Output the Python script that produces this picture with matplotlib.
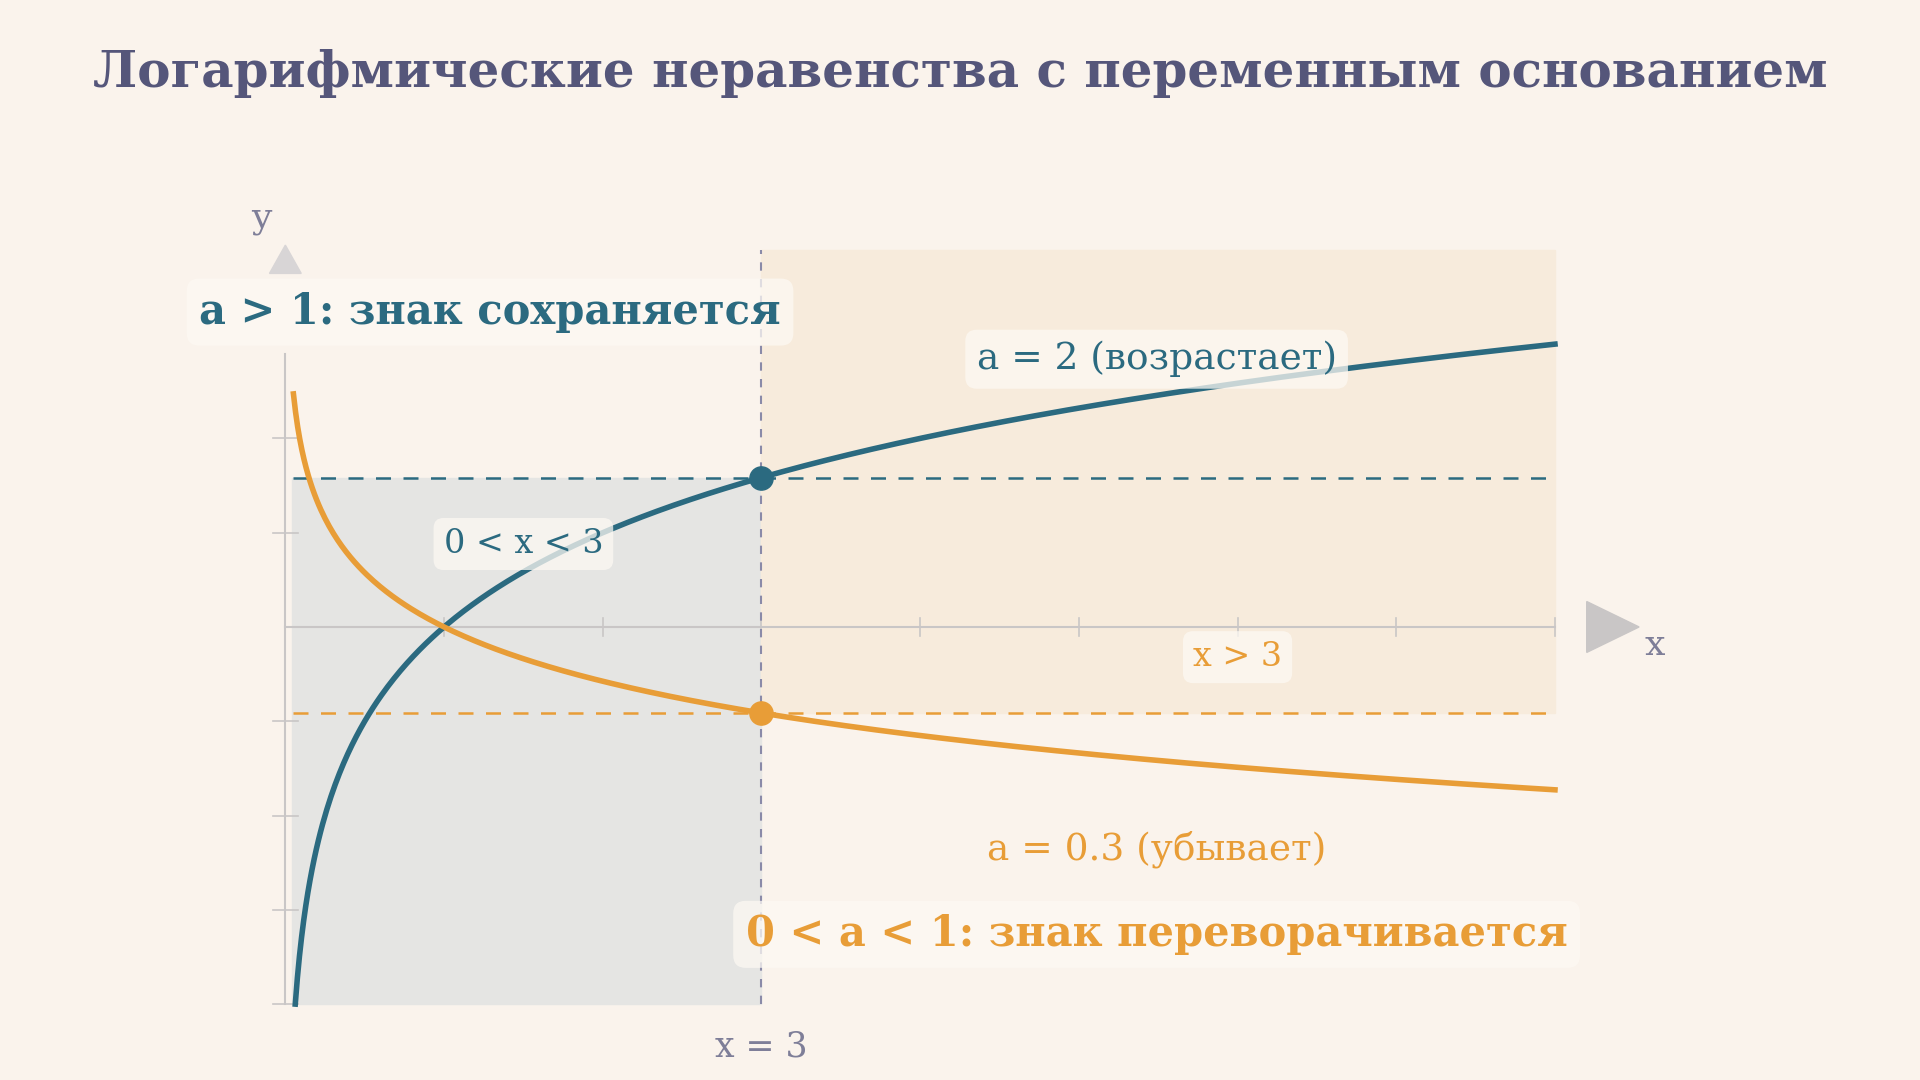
import numpy as np
import matplotlib.pyplot as plt
from matplotlib.patches import Rectangle, Polygon

# данные
base_up = 2.0
base_down = 0.3
x_point = 3.0
x_ticks = [1, 2, 3, 4, 5, 6, 7, 8]
y_ticks = [-4, -3, -2, -1, 1, 2]
x_up = np.linspace(0.0625, 8, 600)
x_down = np.linspace(0.051, 8, 600)

teal = '#2b6a80'
orange = '#e89d37'
bg = '#faf3ec'
gray = '#c9c6c6'

plt.rcParams['font.family'] = ['DejaVu Serif']
fig = plt.figure(figsize=(19.2, 10.8), dpi=100, facecolor=bg)
ax = fig.add_axes([0, 0, 1, 1])
ax.set_facecolor(bg)
ax.set_xlim(-1.798, 10.30)
ax.set_ylim(-4.805, 6.65)
ax.axis('off')

y_up = np.log(x_up) / np.log(base_up)
y_down = np.log(x_down) / np.log(base_down)
yp_up = np.log(x_point) / np.log(base_up)
yp_down = np.log(x_point) / np.log(base_down)

# области
ax.add_patch(Rectangle((0.04, -4), x_point - 0.04, yp_up + 4, color='#e5e5e3', zorder=0))
ax.add_patch(Rectangle((x_point, yp_down), 8 - x_point, 4 - yp_down, color='#f7ebdc', zorder=0))

# оси
ax.plot([0, 8], [0, 0], color=gray, lw=1.5, zorder=1)
ax.add_patch(Polygon([[8.2, 0.27], [8.2, -0.27], [8.53, 0]], color=gray, zorder=1))
ax.plot([0, 0], [-4, 2.9], color=gray, lw=1.5, zorder=1)
ax.add_patch(Polygon([[-0.1, 3.75], [0.1, 3.75], [0, 4.05]], color='#d8d5d6', zorder=1))
for t in x_ticks:
    ax.plot([t, t], [-0.1, 0.1], color=gray, lw=1.2, zorder=1)
for t in y_ticks:
    ax.plot([-0.08, 0.08], [t, t], color=gray, lw=1.2, zorder=1)

# линии уровня
ax.plot([x_point, x_point], [-4, 4], color='#8a8aa8', lw=1.5, ls=(0, (4, 4)), zorder=2)
ax.plot([0.05, 8], [yp_up, yp_up], color=teal, lw=1.8, ls=(0, (6, 5)), zorder=2)
ax.plot([0.05, 8], [yp_down, yp_down], color=orange, lw=1.8, ls=(0, (6, 5)), zorder=2)

# кривые
ax.plot(x_up, y_up, color=teal, lw=4, zorder=3)
ax.plot(x_down, y_down, color=orange, lw=4, zorder=3)
ax.scatter([x_point], [yp_up], s=280, color=teal, zorder=4)
ax.scatter([x_point], [yp_down], s=280, color=orange, zorder=4)

box = dict(boxstyle='round,pad=0.3', fc='#fdf9f3', ec='none', alpha=0.75)
ax.text(4.25, 5.87, 'Логарифмические неравенства с переменным основанием',
        ha='center', va='center', fontsize=36, fontweight='bold', color='#55567a')
ax.text(1.29, 3.34, 'a > 1: знак сохраняется', ha='center', va='center',
        fontsize=30, fontweight='bold', color=teal, bbox=box, zorder=5)
ax.text(5.49, 2.84, 'a = 2 (возрастает)', ha='center', va='center',
        fontsize=27, color=teal, bbox=box, zorder=5)
ax.text(1.5, 0.88, '0 < x < 3', ha='center', va='center',
        fontsize=24, color=teal, bbox=box, zorder=5)
ax.text(6.0, -0.32, 'x > 3', ha='center', va='center',
        fontsize=24, color=orange, bbox=box, zorder=5)
ax.text(5.49, -2.36, 'a = 0.3 (убывает)', ha='center', va='center',
        fontsize=27, color=orange, zorder=5)
ax.text(5.49, -3.26, '0 < a < 1: знак переворачивается', ha='center', va='center',
        fontsize=30, fontweight='bold', color=orange, bbox=box, zorder=5)
ax.text(x_point, -4.45, 'x = 3', ha='center', va='center', fontsize=25, color='#7e7e98')
ax.text(-0.15, 4.34, 'y', ha='center', va='center', fontsize=26, color='#7e7e98')
ax.text(8.63, -0.19, 'x', ha='center', va='center', fontsize=26, color='#7e7e98')

fig.savefig('out.png', dpi=100, facecolor=bg)
